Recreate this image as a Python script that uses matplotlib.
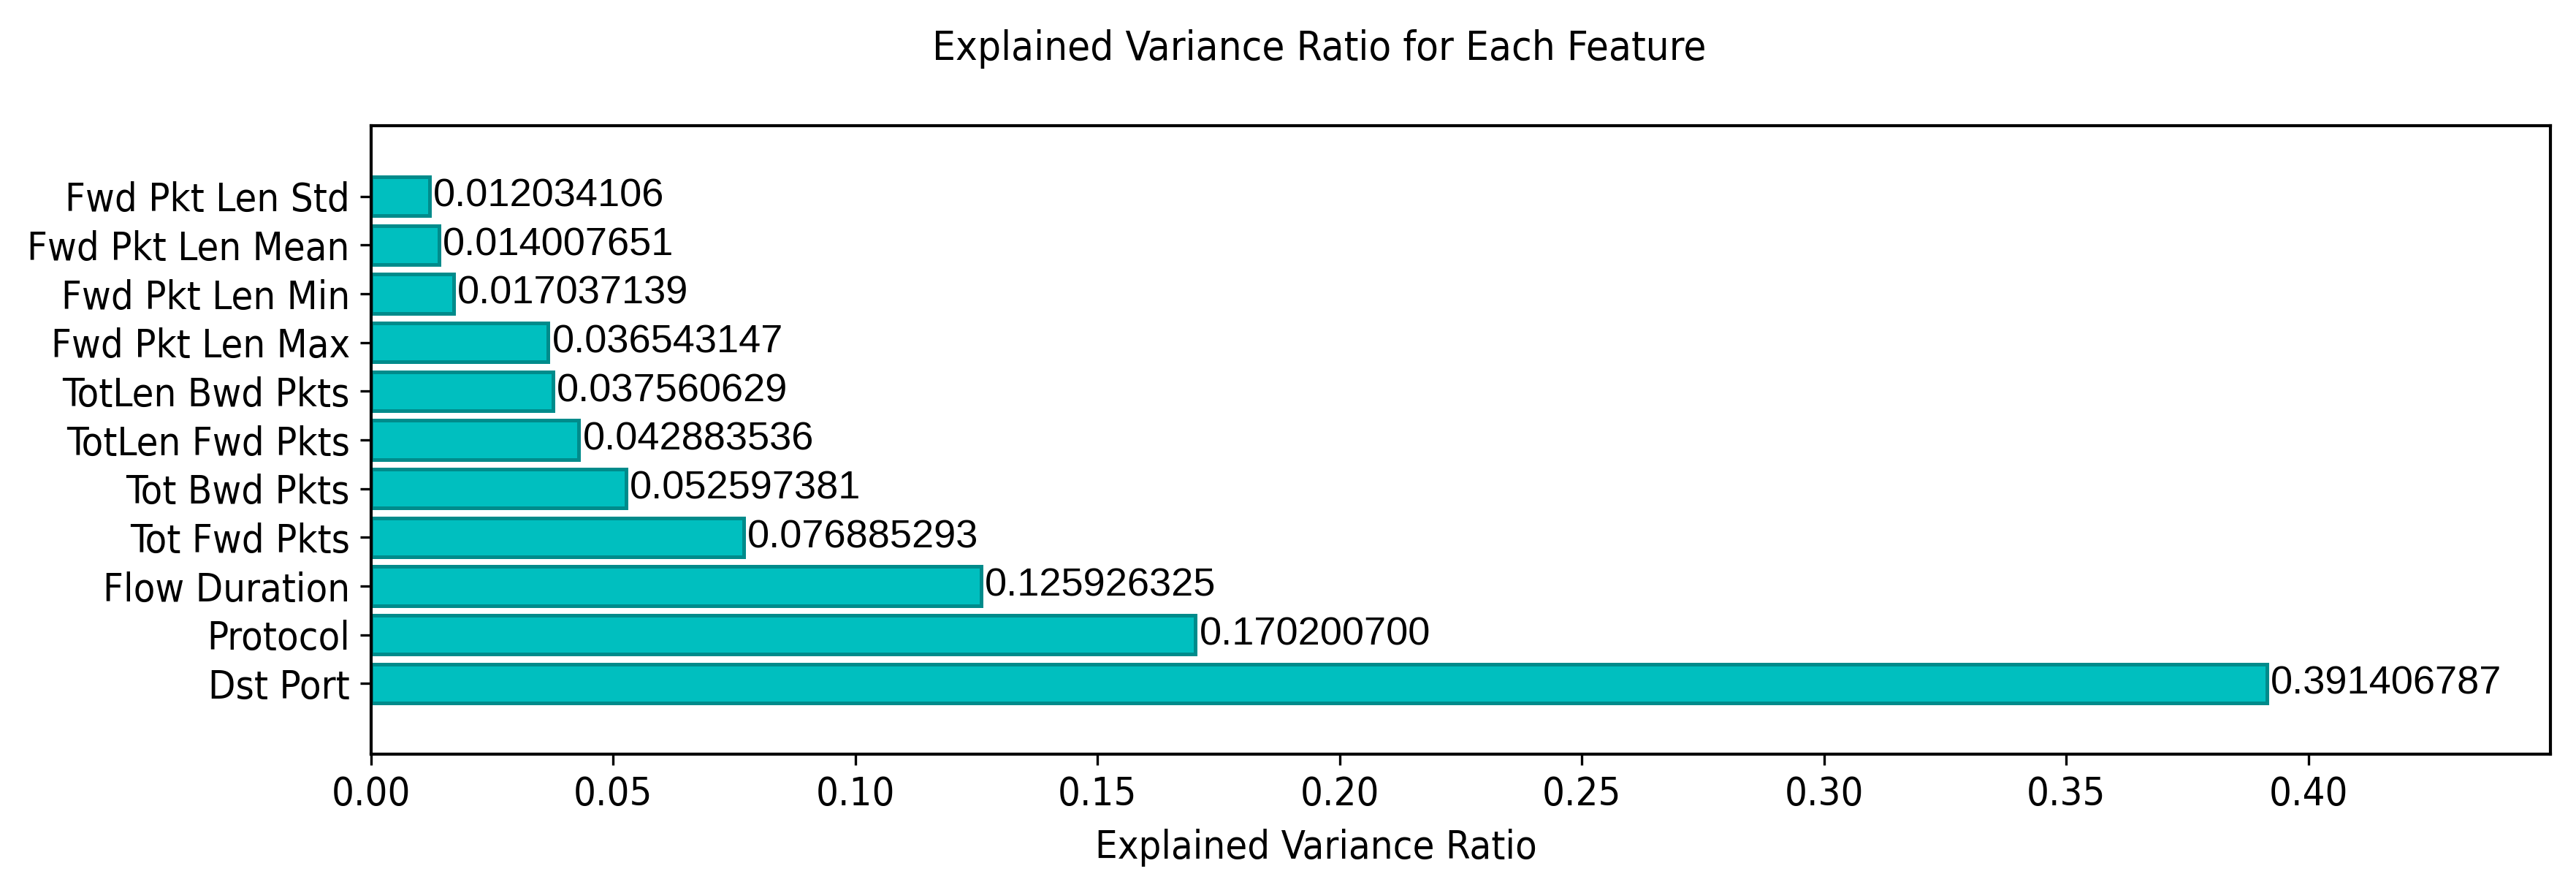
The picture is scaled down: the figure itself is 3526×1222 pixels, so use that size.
import matplotlib

matplotlib.use("Agg")
import matplotlib.pyplot as plt

# explained variance ratio per feature, bottom row first (as plotted by barh)
features = [
    "Dst Port",
    "Protocol",
    "Flow Duration",
    "Tot Fwd Pkts",
    "Tot Bwd Pkts",
    "TotLen Fwd Pkts",
    "TotLen Bwd Pkts",
    "Fwd Pkt Len Max",
    "Fwd Pkt Len Min",
    "Fwd Pkt Len Mean",
    "Fwd Pkt Len Std",
]
ratios = [
    0.391406787,
    0.170200700,
    0.125926325,
    0.076885293,
    0.052597381,
    0.042883536,
    0.037560629,
    0.036543147,
    0.017037139,
    0.014007651,
    0.012034106,
]
xticks = [0.00, 0.05, 0.10, 0.15, 0.20, 0.25, 0.30, 0.35, 0.40]

plt.rcParams["font.family"] = ["DejaVu Sans"]
plt.rcParams["font.stretch"] = "condensed"
plt.rcParams["font.size"] = 13

fig = plt.figure(figsize=(3526 / 300, 1222 / 300), dpi=300)
ax = fig.add_axes([508 / 3526, 1 - 1032 / 1222, (3491 - 508) / 3526, (1032 - 172) / 1222])

ypos = list(range(len(features)))
ax.barh(ypos, ratios, height=0.8, color="#00bfbf", edgecolor="#008b8b", linewidth=1.2)

# value labels drawn in an Arial-like face, as in the source figure
for y, v in zip(ypos, ratios):
    ax.text(v + 0.0008, y, f"{v:.9f}", va="center", ha="left", fontsize=13,
            family=["Liberation Sans", "DejaVu Sans"], fontstretch="normal")

ax.set_yticks(ypos)
ax.set_yticklabels(features, fontsize=13)
ax.set_xticks(xticks)
ax.set_xticklabels([f"{t:.2f}" for t in xticks], fontsize=13)
ax.set_xlim(0, 0.45)
ax.set_ylim(-1.45, 11.45)

for side in ax.spines.values():
    side.set_linewidth(1.0)

fig.text(0.512, 1 - 67 / 1222, "Explained Variance Ratio for Each Feature",
         ha="center", va="center", fontsize=13.5)
fig.text(0.511, 1 - 1160 / 1222, "Explained Variance Ratio",
         ha="center", va="center", fontsize=13)

fig.savefig("out.png", dpi=300)
plt.close(fig)
